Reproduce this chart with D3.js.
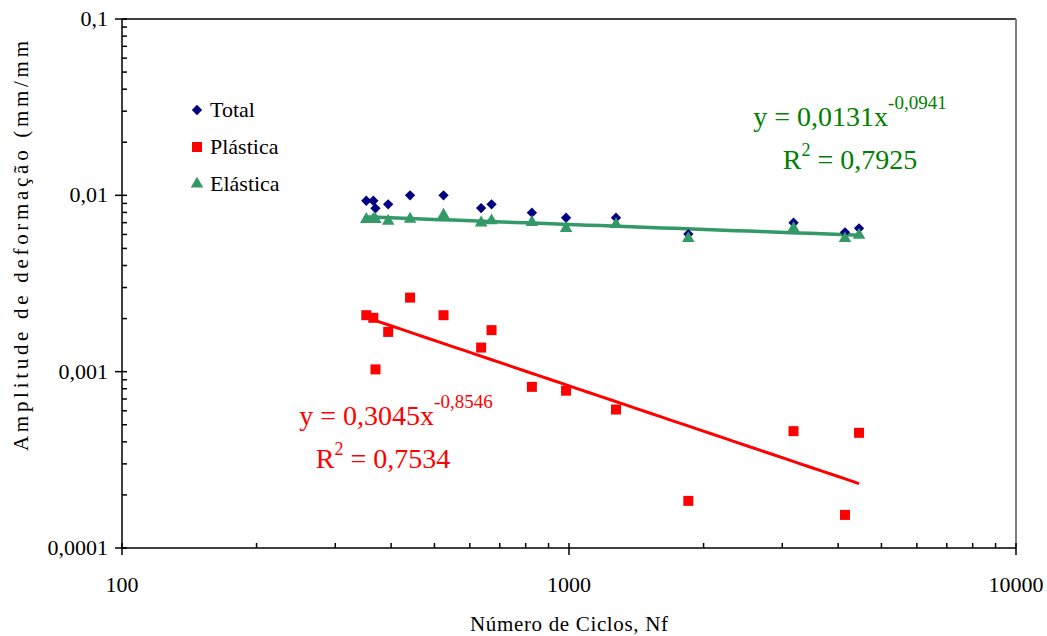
<!DOCTYPE html>
<meta charset="utf-8">
<title>Amplitude de deformação</title>
<style>

body {
  margin: 0;
  background: #fff;
  font-family: "Liberation Serif", "Times New Roman", serif;
}

</style>
<body>
</body>
<script src="https://cdn.jsdelivr.net/npm/d3@7"></script>
<script>

// number of cycles (shared by the three series)
var ciclos = [352, 365, 369, 394, 441, 524, 636, 671, 826, 985, 1274, 1849, 3179, 4144, 4455];
var total = [0.00932, 0.00932, 0.00844, 0.00889, 0.0100, 0.0100, 0.00847, 0.00889, 0.00797, 0.00746, 0.00746, 0.00603, 0.00699, 0.00617, 0.0065];
var plastica = [0.00209, 0.00202, 0.00103, 0.00168, 0.00263, 0.00209, 0.00137, 0.00172, 0.00082, 0.00078, 0.00061, 0.000185, 0.00046, 0.000154, 0.00045];
var elastica = [0.00731, 0.00731, 0.0073, 0.00715, 0.00734, 0.00773, 0.00699, 0.00718, 0.00703, 0.0065, 0.00685, 0.0057, 0.0065, 0.0057, 0.00595];

// power trendlines as printed on the chart: y = a * x^b
var fitElastica = [0.0131, -0.0941];
var fitPlastica = [0.3045, -0.8546];

var xTicks = [100, 1000, 10000];
var yTicks = [0.0001, 0.001, 0.01, 0.1];
var yLabels = ["0,0001", "0,001", "0,01", "0,1"];

var width = 1047,
    height = 636;

// plot area edges
var pLeft = 122, pRight = 1016, pTop = 19, pBottom = 548;

var svg = d3.select("body").append("svg")
    .attr("width", width)
    .attr("height", height);

var x = d3.scaleLog().domain([100, 10000]).range([pLeft, pRight]);
var y = d3.scaleLog().domain([0.0001, 0.1]).range([pBottom, pTop]);

// frame: top line black, right line gray
svg.append("line")
    .attr("x1", pLeft).attr("y1", pTop).attr("x2", pRight).attr("y2", pTop)
    .attr("stroke", "#000").attr("stroke-width", 1.5);
svg.append("line")
    .attr("x1", pRight).attr("y1", pTop).attr("x2", pRight).attr("y2", pBottom)
    .attr("stroke", "#808080").attr("stroke-width", 2);

// minor ticks
var xMinor = [], yMinor = [];
for (var d = 100; d < 10000; d *= 10) {
  for (var k = 2; k < 10; k++) xMinor.push(d * k);
}
for (var e = -4; e < -1; e++) {
  for (var k = 2; k < 10; k++) yMinor.push(k * Math.pow(10, e));
}

var axes = svg.append("g").attr("stroke", "#000").attr("stroke-width", 1.5);

axes.append("line")
    .attr("x1", pLeft).attr("y1", pBottom).attr("x2", pRight).attr("y2", pBottom);
axes.append("line")
    .attr("x1", pLeft).attr("y1", pTop).attr("x2", pLeft).attr("y2", pBottom);

axes.selectAll(".xminor").data(xMinor).enter().append("line")
    .attr("x1", function(d) { return x(d); })
    .attr("x2", function(d) { return x(d); })
    .attr("y1", pBottom).attr("y2", pBottom - 5);
axes.selectAll(".xmajor").data(xTicks).enter().append("line")
    .attr("x1", function(d) { return x(d); })
    .attr("x2", function(d) { return x(d); })
    .attr("y1", pBottom - 5).attr("y2", pBottom + 7);

axes.selectAll(".yminor").data(yMinor).enter().append("line")
    .attr("y1", function(d) { return y(d); })
    .attr("y2", function(d) { return y(d); })
    .attr("x1", pLeft).attr("x2", pLeft + 5);
axes.selectAll(".ymajor").data(yTicks).enter().append("line")
    .attr("y1", function(d) { return y(d); })
    .attr("y2", function(d) { return y(d); })
    .attr("x1", pLeft - 7).attr("x2", pLeft + 5);

// tick labels
svg.selectAll(".xlab").data(xTicks).enter().append("text")
    .attr("x", function(d) { return x(d); })
    .attr("y", 592)
    .attr("text-anchor", "middle")
    .attr("font-size", 22)
    .text(function(d) { return d; });

svg.selectAll(".ylab").data(yTicks).enter().append("text")
    .attr("x", 108)
    .attr("y", function(d) { return y(d) + 7; })
    .attr("text-anchor", "end")
    .attr("font-size", 22)
    .text(function(d, i) { return yLabels[i]; });

// axis titles
svg.append("text")
    .attr("x", 569).attr("y", 631)
    .attr("text-anchor", "middle")
    .attr("font-size", 21)
    .attr("textLength", 198)
    .attr("lengthAdjust", "spacing")
    .text("Número de Ciclos, Nf");

svg.append("text")
    .attr("transform", "translate(28,246) rotate(-90)")
    .attr("text-anchor", "middle")
    .attr("font-size", 21)
    .attr("textLength", 410)
    .attr("lengthAdjust", "spacing")
    .text("Amplitude de deformação (mm/mm");

// trendlines
function fitLine(fit) {
  var xs = d3.extent(ciclos);
  var pts = d3.range(0, 41).map(function(i) {
    var xv = Math.exp(Math.log(xs[0]) + i / 40 * (Math.log(xs[1]) - Math.log(xs[0])));
    return [xv, fit[0] * Math.pow(xv, fit[1])];
  });
  return d3.line()
      .x(function(d) { return x(d[0]); })
      .y(function(d) { return y(d[1]); })(pts);
}

svg.append("path")
    .attr("d", fitLine(fitElastica))
    .attr("fill", "none")
    .attr("stroke", "#339966")
    .attr("stroke-width", 3.5);

svg.append("path")
    .attr("d", fitLine(fitPlastica))
    .attr("fill", "none")
    .attr("stroke", "#ff0000")
    .attr("stroke-width", 3);

// markers
var diamond = d3.symbol().type(d3.symbolDiamond2).size(68);
var square = d3.symbol().type(d3.symbolSquare).size(100);
var triangle = d3.symbol().type(d3.symbolTriangle).size(68);

function drawSeries(vals, sym, color) {
  svg.append("g").selectAll("path").data(vals).enter().append("path")
      .attr("d", sym)
      .attr("transform", function(d, i) {
        return "translate(" + x(ciclos[i]) + "," + y(d) + ")";
      })
      .attr("fill", color);
}

drawSeries(total, diamond, "#000080");
drawSeries(plastica, square, "#ff0000");
drawSeries(elastica, triangle, "#339966");

// legend
var legend = [
  {name: "Total", sym: diamond, color: "#000080"},
  {name: "Plástica", sym: square, color: "#ff0000"},
  {name: "Elástica", sym: triangle, color: "#339966"}
];

var lg = svg.append("g").selectAll("g").data(legend).enter().append("g")
    .attr("transform", function(d, i) { return "translate(197," + (110 + i * 37) + ")"; });
lg.append("path")
    .attr("d", function(d) { return d.sym(); })
    .attr("fill", function(d) { return d.color; });
lg.append("text")
    .attr("x", 13).attr("y", 7)
    .attr("font-size", 22)
    .text(function(d) { return d.name; });

// equations
function comma(v) {
  return v.toFixed(4).replace(".", ",");
}

function equation(cx, cy, rx, fit, r2, color) {
  var g = svg.append("g").attr("fill", color).attr("font-size", 28);
  var t = g.append("text")
      .attr("x", cx).attr("y", cy)
      .attr("text-anchor", "middle");
  t.append("tspan").text("y = " + comma(fit[0]) + "x");
  t.append("tspan")
      .attr("dy", -17)
      .attr("font-size", 19)
      .text(comma(fit[1]));
  var r = g.append("text")
      .attr("x", rx).attr("y", cy + 43)
      .attr("text-anchor", "middle");
  r.append("tspan").text("R");
  r.append("tspan").attr("dy", -13).attr("font-size", 18).text("2");
  r.append("tspan").attr("dy", 13).text(" = " + r2);
}

equation(850, 126, 850, fitElastica, "0,7925", "#008000");
equation(396, 425, 383, fitPlastica, "0,7534", "#ff0000");

</script>
